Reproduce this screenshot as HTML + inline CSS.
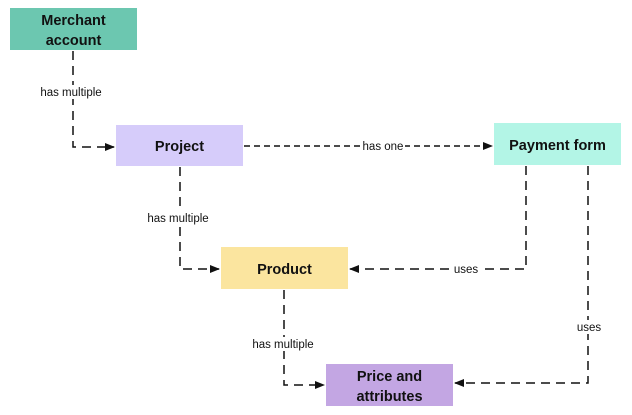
<!DOCTYPE html>
<html><head><meta charset="utf-8"><style>
html,body{margin:0;padding:0;background:#fff;width:632px;height:415px;overflow:hidden}
text{font-family:"Liberation Sans",sans-serif;fill:#111}
.b{font-weight:bold;font-size:14.5px}
.l{font-size:11.5px}
</style></head><body>
<svg width="632" height="415" viewBox="0 0 632 415" xmlns="http://www.w3.org/2000/svg">
<defs><marker id="a" markerWidth="10" markerHeight="8" refX="9" refY="4" orient="auto" markerUnits="userSpaceOnUse"><path d="M0,0 L10,4 L0,8 z" fill="#111"/></marker></defs>
<rect x="10" y="8" width="127" height="42" fill="#6cc7b0"/>
<rect x="116" y="125" width="127" height="41" fill="#d6ccfa"/>
<rect x="494" y="123" width="127" height="42" fill="#b3f5e6"/>
<rect x="221" y="247" width="127" height="42" fill="#fbe59f"/>
<rect x="326" y="364" width="127" height="42" fill="#c3a6e3"/>
<g fill="none" stroke="#111" stroke-width="1.5" stroke-dasharray="9,6">
<path d="M73,51 V147 H114" marker-end="url(#a)"/>
<path d="M244,146 H492" marker-end="url(#a)" stroke-dasharray="6,4"/>
<path d="M180,167 V269 H219" marker-end="url(#a)"/>
<path d="M526,166 V269 H350" marker-end="url(#a)"/>
<path d="M588,166 V383 H455" marker-end="url(#a)"/>
<path d="M284,290 V385 H324" marker-end="url(#a)"/>
</g>
<g fill="#fff">
<rect x="36" y="85" width="70" height="14"/>
<rect x="361" y="139" width="44" height="14"/>
<rect x="145" y="211" width="67" height="14"/>
<rect x="452" y="262" width="28" height="14"/>
<rect x="574" y="320" width="28" height="14"/>
<rect x="249" y="337" width="68" height="14"/>
</g>
<text class="b" x="73.5" y="25" text-anchor="middle">Merchant</text>
<text class="b" x="73.5" y="45" text-anchor="middle">account</text>
<text class="b" x="179.5" y="151" text-anchor="middle">Project</text>
<text class="b" x="557.5" y="150" text-anchor="middle">Payment form</text>
<text class="b" x="284.5" y="274" text-anchor="middle">Product</text>
<text class="b" x="389.5" y="381" text-anchor="middle">Price and</text>
<text class="b" x="389.5" y="401" text-anchor="middle">attributes</text>
<text class="l" x="71" y="96" text-anchor="middle">has multiple</text>
<text class="l" x="383" y="150" text-anchor="middle">has one</text>
<text class="l" x="178" y="222" text-anchor="middle">has multiple</text>
<text class="l" x="466" y="273" text-anchor="middle">uses</text>
<text class="l" x="589" y="331" text-anchor="middle">uses</text>
<text class="l" x="283" y="348" text-anchor="middle">has multiple</text>
</svg>
</body></html>
